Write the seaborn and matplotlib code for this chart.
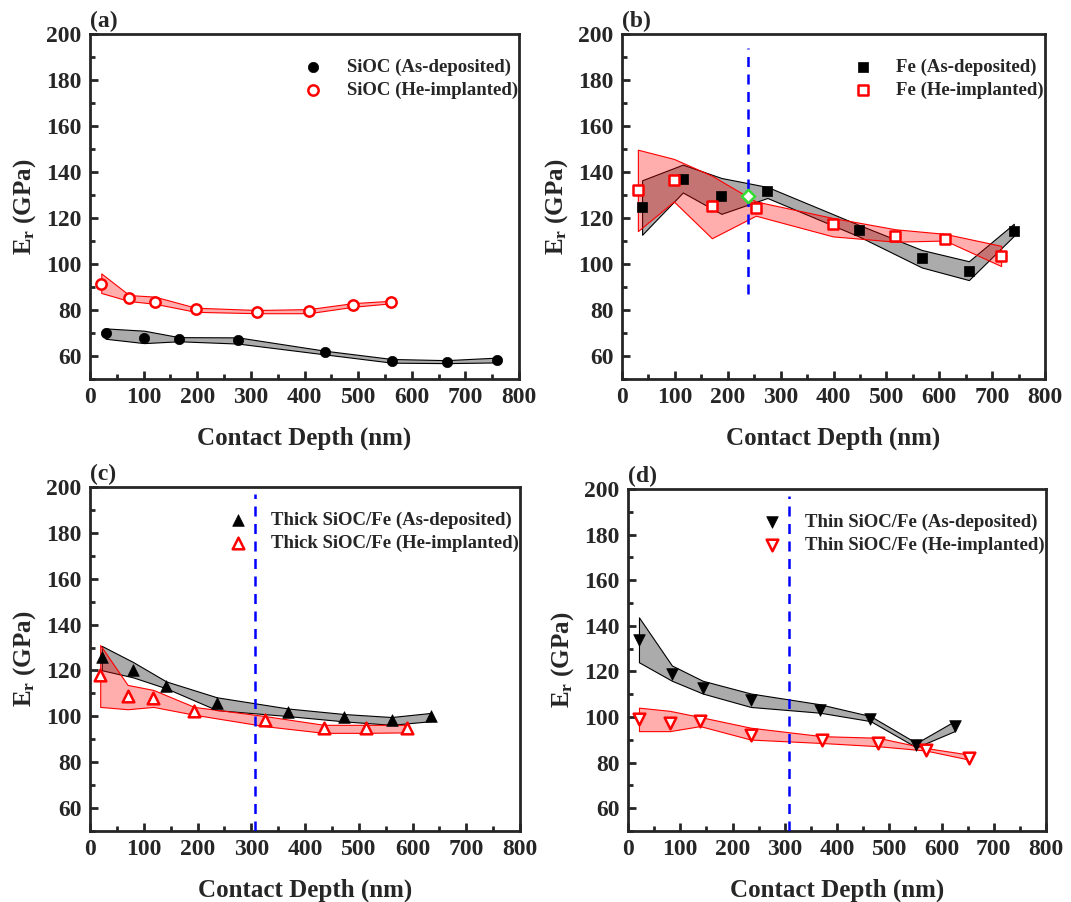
import numpy as np
import pandas as pd
import matplotlib
matplotlib.use("Agg")
import matplotlib.pyplot as plt
import seaborn as sns

# (a) SiOC
a_dep_x = [29, 101, 166, 276, 438, 563, 665, 759]
a_dep_y = [70.0, 67.9, 67.3, 66.9, 61.6, 58.0, 57.5, 58.2]
a_dep_lo = [67.5, 65.6, 66.4, 65.4, 60.7, 57.1, 56.9, 57.2]
a_dep_hi = [72.0, 71.0, 68.2, 68.1, 62.3, 58.7, 58.2, 59.3]
a_imp_x = [21, 73, 121, 197, 312, 408, 491, 561]
a_imp_y = [91.5, 85.1, 83.6, 80.4, 79.2, 79.6, 82.3, 83.4]
a_imp_lo = [87.4, 83.9, 82.7, 79.2, 78.6, 78.6, 81.4, 82.9]
a_imp_hi = [95.9, 86.5, 85.8, 81.0, 80.0, 80.4, 83.0, 84.0]

# (b) Fe
b_dep_x = [38, 115, 188, 275, 448, 567, 656, 741]
b_dep_y = [124.6, 137.1, 129.5, 131.6, 114.8, 102.6, 96.9, 114.5]
b_dep_lo = [112.7, 131.1, 121.8, 128.7, 112.0, 98.5, 93.0, 112.2]
b_dep_hi = [136.4, 143.2, 137.4, 133.5, 117.0, 106.1, 101.2, 117.5]
b_imp_x = [30, 98, 170, 253, 399, 517, 611, 717]
b_imp_y = [132.0, 136.5, 125.0, 124.4, 117.3, 112.2, 111.0, 103.5]
b_imp_lo = [114.3, 127.2, 111.2, 121.0, 112.0, 109.7, 110.2, 99.1]
b_imp_hi = [149.7, 145.7, 138.4, 127.2, 120.0, 115.1, 113.1, 107.9]
b_mark_x = [238]
b_mark_y = [129.7]

# (c) Thick SiOC/Fe
c_dep_x = [22, 80, 142, 236, 369, 473, 561, 635]
c_dep_y = [125.8, 120.1, 113.3, 105.9, 101.8, 99.6, 98.5, 100.0]
c_dep_lo = [120.1, 117.0, 112.2, 102.7, 100.1, 97.8, 96.3, 97.9]
c_dep_hi = [130.7, 123.7, 115.2, 108.3, 103.4, 101.0, 99.7, 101.5]
c_imp_x = [19, 70, 118, 194, 326, 435, 514, 590]
c_imp_y = [118.1, 108.8, 108.1, 102.5, 98.5, 94.7, 95.0, 95.0]
c_imp_lo = [104.1, 103.1, 104.1, 100.7, 95.7, 92.8, 92.8, 93.0]
c_imp_hi = [131.1, 113.7, 111.5, 104.1, 100.1, 96.3, 96.3, 96.3]

# (d) Thin SiOC/Fe
d_dep_x = [21, 84, 143, 235, 367, 464, 552, 625]
d_dep_y = [133.6, 118.9, 112.7, 107.4, 103.0, 99.0, 87.9, 96.0]
d_dep_lo = [124.0, 115.9, 110.3, 104.4, 101.9, 98.2, 86.7, 93.8]
d_dep_hi = [143.7, 122.6, 115.9, 110.3, 105.6, 100.4, 88.6, 98.2]
d_imp_x = [21, 80, 138, 235, 371, 478, 570, 653]
d_imp_y = [99.0, 97.5, 98.2, 92.3, 89.7, 88.6, 85.4, 82.0]
d_imp_lo = [93.8, 93.8, 96.0, 90.1, 88.6, 87.2, 85.3, 81.3]
d_imp_hi = [104.1, 102.7, 100.0, 95.3, 91.6, 90.9, 86.4, 83.5]

# interface depth lines (x, ymin, ymax)
vlines = {"b": (238, 87, 194), "c": (307, 50, 197), "d": (308, 50, 197)}

sns.set_style("ticks")
plt.rcParams["font.family"] = ["Liberation Serif", "DejaVu Serif"]
plt.rcParams["font.weight"] = "bold"
plt.rcParams["axes.labelweight"] = "bold"
plt.rcParams["mathtext.fontset"] = "custom"
plt.rcParams["mathtext.rm"] = "Liberation Serif:bold"
plt.rcParams["mathtext.it"] = "Liberation Serif:bold"

fig = plt.figure(figsize=(10.71, 9.02), dpi=100)
W, H = 1071, 902
boxes = {
    "a": (90, 34, 519, 379),
    "b": (622, 34, 1045, 379),
    "c": (90, 487, 520, 831),
    "d": (628, 489, 1046, 831),
}

panels = {
    "a": dict(dep=(a_dep_x, a_dep_y, a_dep_lo, a_dep_hi), imp=(a_imp_x, a_imp_y, a_imp_lo, a_imp_hi),
              m="o", lab="SiOC", s=55),
    "b": dict(dep=(b_dep_x, b_dep_y, b_dep_lo, b_dep_hi), imp=(b_imp_x, b_imp_y, b_imp_lo, b_imp_hi),
              m="s", lab="Fe", s=45),
    "c": dict(dep=(c_dep_x, c_dep_y, c_dep_lo, c_dep_hi), imp=(c_imp_x, c_imp_y, c_imp_lo, c_imp_hi),
              m="^", lab="Thick SiOC/Fe", s=70),
    "d": dict(dep=(d_dep_x, d_dep_y, d_dep_lo, d_dep_hi), imp=(d_imp_x, d_imp_y, d_imp_lo, d_imp_hi),
              m="v", lab="Thin SiOC/Fe", s=70),
}

for key, p in panels.items():
    l, t, r, b = boxes[key]
    ax = fig.add_axes([l / W, 1 - b / H, (r - l) / W, (b - t) / H])

    x, y, lo, hi = p["dep"]
    ax.fill_between(x, lo, hi, facecolor=(0, 0, 0, 0.33), edgecolor="black", linewidth=0.8, zorder=2)
    x2, y2, lo2, hi2 = p["imp"]
    ax.fill_between(x2, lo2, hi2, facecolor=(1, 0, 0, 0.32), edgecolor="red", linewidth=0.8, zorder=2)

    if key in vlines:
        vx, v0, v1 = vlines[key]
        ax.plot([vx, vx], [v0, v1], color="blue", linestyle=(0, (4, 3)), linewidth=1.8, zorder=3)

    sns.scatterplot(x=x, y=y, marker=p["m"], s=p["s"], color="black", edgecolor="black",
                    linewidth=0.5, ax=ax, zorder=4, label=p["lab"] + " (As-deposited)")
    sns.scatterplot(x=x2, y=y2, marker=p["m"], s=p["s"], color="white", edgecolor="red",
                    linewidth=1.8, ax=ax, zorder=4, label=p["lab"] + " (He-implanted)")

    if key == "b":
        sns.scatterplot(x=b_mark_x, y=b_mark_y, marker="D", s=45, color="white",
                        edgecolor="#33dd33", linewidth=1.8, ax=ax, zorder=5)

    ax.set_xlim(0, 800)
    ax.set_ylim(50, 200)
    ax.set_xticks(np.arange(0, 801, 100))
    ax.set_xticks(np.arange(50, 800, 100), minor=True)
    ax.set_yticks(np.arange(60, 201, 20))
    ax.set_yticks(np.arange(50, 200, 20), minor=True)
    ax.tick_params(which="major", direction="in", length=6, width=2, labelsize=17, pad=6)
    ax.tick_params(which="minor", direction="in", length=3.5, width=2)
    for sp in ax.spines.values():
        sp.set_linewidth(2)
        sp.set_visible(True)
    for lbl in ax.get_xticklabels() + ax.get_yticklabels():
        lbl.set_fontweight("bold")

    ax.set_xlabel("Contact Depth (nm)", fontsize=18, labelpad=13)
    ax.set_ylabel(r"E$_\mathregular{r}$ (GPa)", fontsize=18, labelpad=6)
    ax.text(0.0, 1.005, "(" + key + ")", transform=ax.transAxes, ha="left", va="bottom",
            fontsize=17, fontweight="bold")

    ax.legend(loc="upper right", bbox_to_anchor=(1.02, 0.955), frameon=False,
              labelspacing=0.3, handletextpad=0.8, borderpad=0.3, borderaxespad=0.2,
              prop={"weight": "bold", "size": 13.5})

fig.savefig("out.png", dpi=100)
